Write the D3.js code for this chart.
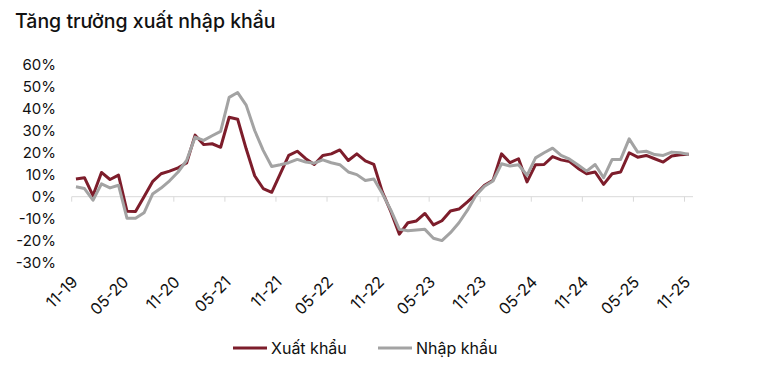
<!DOCTYPE html>
<html>
<head>
<meta charset="utf-8">
<script src="https://cdn.jsdelivr.net/npm/d3@7/dist/d3.min.js"></script>
<style>
  html, body { margin: 0; padding: 0; background: #ffffff; }
  svg { display: block; font-family: Inter, "Noto Sans", sans-serif; }
</style>
</head>
<body>
<svg id="chart" width="771" height="370"></svg>
<script>
// Monthly growth (%), 11-2019 .. 11-2025
const tickLabels = ["11-19","05-20","11-20","05-21","11-21","05-22","11-22","05-23","11-23","05-24","11-24","05-25","11-25"];
const seriesNames = ["Xuất khẩu", "Nhập khẩu"];
const exportsGrowth = [
  8.0, 8.6, 0.5, 11.0, 7.8, 9.8, -6.6, -6.7, 0.0, 6.8, 10.4, 11.6,
  13.1, 15.3, 27.9, 23.6, 24.0, 22.4, 36.0, 35.1, 21.7, 9.5, 3.7, 2.0,
  10.4, 18.7, 20.6, 17.2, 14.6, 18.7, 19.4, 21.2, 16.4, 19.4, 16.2, 14.6,
  2.2, -6.8, -17.0, -11.8, -11.0, -7.6, -12.8, -10.9, -6.5, -5.6, -2.3, 1.2,
  5.2, 7.4, 19.4, 15.4, 17.2, 6.7, 14.5, 14.6, 18.2, 16.7, 15.9, 12.8,
  10.4, 11.2, 5.6, 10.4, 11.2, 19.9, 17.9, 18.7, 17.2, 15.7, 18.4, 19.0,
  19.2
];
const importsGrowth = [
  4.5, 3.7, -1.6, 5.8, 4.0, 5.2, -9.8, -9.8, -7.3, 1.2, 3.9, 7.2,
  11.2, 16.4, 27.0, 25.5, 27.6, 29.6, 45.0, 47.2, 41.5, 30.0, 21.0, 13.7,
  14.5, 15.4, 16.9, 15.7, 15.2, 16.7, 15.4, 14.5, 11.2, 10.0, 7.3, 8.0,
  1.4, -6.1, -14.8, -15.4, -15.1, -14.8, -18.8, -19.9, -16.3, -11.8, -6.1, 0.6,
  4.7, 7.1, 14.9, 13.9, 14.5, 9.7, 17.6, 19.9, 22.0, 18.7, 17.0, 14.4,
  11.6, 14.6, 8.6, 16.9, 16.9, 26.2, 20.2, 20.6, 19.1, 18.7, 20.2, 19.9,
  19.1
];
const yTicks = [60, 50, 40, 30, 20, 10, 0, -10, -20, -30];
const colors = ["#7d1d2b", "#a3a3a3"];

const svg = d3.select("#chart");
const nMonths = exportsGrowth.length;

const x = d3.scaleLinear().domain([0, nMonths]).range([71.7, 693]);
const y = d3.scaleLinear().domain([-30, 60]).range([262.9, 64.3]);

// Title
svg.append("text")
  .attr("x", 15).attr("y", 28)
  .attr("font-size", 19.5).attr("font-weight", 500).attr("fill", "#111")
  .text("Tăng trưởng xuất nhập khẩu");

// Y labels
svg.append("g").selectAll("text").data(yTicks).join("text")
  .attr("x", 56).attr("y", d => y(d))
  .attr("dy", "0.35em")
  .attr("text-anchor", "end")
  .attr("font-size", 15).attr("fill", "#111")
  .text(d => d + "%");

// Zero axis line
const tickIdx = d3.range(0, nMonths, 6);
svg.append("line")
  .attr("x1", x(0)).attr("x2", x(nMonths))
  .attr("y1", y(0)).attr("y2", y(0))
  .attr("stroke", "#d9d9d9").attr("stroke-width", 1);
svg.append("g").selectAll("line").data(tickIdx).join("line")
  .attr("x1", d => x(d)).attr("x2", d => x(d))
  .attr("y1", y(0)).attr("y2", y(0) + 5)
  .attr("stroke", "#d9d9d9").attr("stroke-width", 1);

// X labels (rotated)
svg.append("g").selectAll("text").data(tickIdx).join("text")
  .attr("transform", (d) => `translate(${x(d) + 7},${283}) rotate(-45)`)
  .attr("text-anchor", "end")
  .attr("font-size", 16).attr("fill", "#111")
  .text((d, i) => tickLabels[i]);

// Lines
const line = d3.line()
  .x((d, i) => x(i + 0.5))
  .y(d => y(d));
// draw import (second series) on top, as in the reference
svg.append("path").datum(exportsGrowth)
  .attr("d", line).attr("fill", "none")
  .attr("stroke", colors[0]).attr("stroke-width", 3).attr("stroke-linejoin", "round");
svg.append("path").datum(importsGrowth)
  .attr("d", line).attr("fill", "none")
  .attr("stroke", colors[1]).attr("stroke-width", 3).attr("stroke-linejoin", "round");

// Legend
const legend = svg.append("g");
const legendItems = [
  { name: seriesNames[0], color: colors[0], x0: 233 },
  { name: seriesNames[1], color: colors[1], x0: 378 }
];
legendItems.forEach(it => {
  legend.append("line")
    .attr("x1", it.x0).attr("x2", it.x0 + 34)
    .attr("y1", 348).attr("y2", 348)
    .attr("stroke", it.color).attr("stroke-width", 3);
  legend.append("text")
    .attr("x", it.x0 + 38).attr("y", 348).attr("dy", "0.35em")
    .attr("font-size", 16).attr("fill", "#111")
    .text(it.name);
});
</script>
</body>
</html>
